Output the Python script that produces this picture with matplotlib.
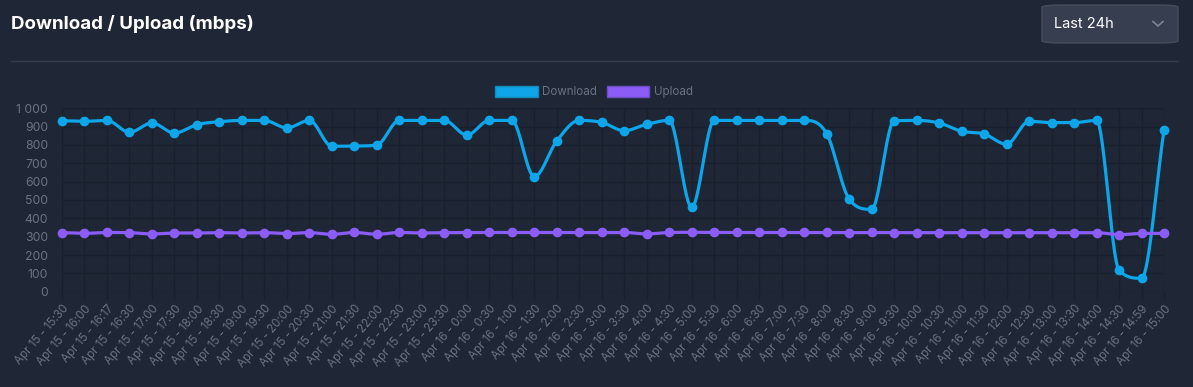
import numpy as np
import matplotlib
matplotlib.use("Agg")
import matplotlib.pyplot as plt
from matplotlib.patches import FancyBboxPatch, Patch
from matplotlib.lines import Line2D
from matplotlib.ticker import FuncFormatter

BG = "#1f2737"
GRID = "#18202c"
TEXT_GREY = "#6b7383"
BLUE = "#0ea5e9"
PURPLE = "#8b5cf6"

day15 = ["15:30", "16:00", "16:17", "16:30", "17:00", "17:30", "18:00", "18:30",
         "19:00", "19:30", "20:00", "20:30", "21:00", "21:30", "22:00", "22:30",
         "23:00", "23:30"]
day16 = ["0:00", "0:30", "1:00", "1:30", "2:00", "2:30", "3:00", "3:30", "4:00",
         "4:30", "5:00", "5:30", "6:00", "6:30", "7:00", "7:30", "8:00", "8:30",
         "9:00", "9:30", "10:00", "10:30", "11:00", "11:30", "12:00", "12:30",
         "13:00", "13:30", "14:00", "14:30", "14:59", "15:00"]
labels = ["Apr 15 - " + t for t in day15] + ["Apr 16 - " + t for t in day16]

download = [932, 929, 934, 869, 920, 865, 911, 927, 934, 934,
            893, 934, 793, 794, 800, 934, 934, 934, 854, 934,
            934, 627, 822, 934, 923, 878, 913, 934, 460, 934,
            934, 934, 934, 934, 862, 505, 449, 931, 934, 920,
            875, 860, 804, 929, 922, 922, 934, 118, 73, 880]
upload = [322, 318, 323, 322, 315, 320, 320, 322, 320, 322,
          317, 322, 313, 323, 313, 323, 320, 322, 322, 323,
          323, 323, 323, 323, 323, 323, 315, 323, 324, 323,
          323, 323, 323, 323, 323, 322, 323, 322, 322, 322,
          322, 322, 322, 322, 322, 322, 322, 311, 318, 318]


def monotone_curve(y, steps=24):
    # monotone cubic spline, same idea as chart.js "monotone" mode
    y = np.asarray(y, dtype=float)
    n = len(y)
    x = np.arange(n, dtype=float)
    d = np.diff(y)
    m = np.zeros(n)
    m[0], m[-1] = d[0], d[-1]
    for k in range(1, n - 1):
        m[k] = 0.0 if d[k - 1] * d[k] <= 0 else (d[k - 1] + d[k]) / 2
    for k in range(n - 1):
        if d[k] == 0:
            m[k] = m[k + 1] = 0.0
            continue
        a, b = m[k] / d[k], m[k + 1] / d[k]
        s = a * a + b * b
        if s > 9:
            t = 3 / np.sqrt(s)
            m[k], m[k + 1] = t * a * d[k], t * b * d[k]
    xs, ys = [], []
    for k in range(n - 1):
        t = np.linspace(0, 1, steps, endpoint=False)
        h00 = 2 * t**3 - 3 * t**2 + 1
        h10 = t**3 - 2 * t**2 + t
        h01 = -2 * t**3 + 3 * t**2
        h11 = t**3 - t**2
        xs.append(x[k] + t)
        ys.append(h00 * y[k] + h10 * m[k] + h01 * y[k + 1] + h11 * m[k + 1])
    xs.append([x[-1]])
    ys.append([y[-1]])
    return np.concatenate(xs), np.concatenate(ys)


plt.rcParams["font.family"] = ["Inter", "DejaVu Sans"]

W, H = 1193, 387
fig = plt.figure(figsize=(W / 100, H / 100), dpi=100, facecolor=BG)

# header
fig.text(11 / W, 1 - 24 / H, "Download / Upload (mbps)", color="white",
         fontsize=13.5, fontweight="bold", va="center", ha="left")
fig.add_artist(Line2D([11 / W, 1178 / W], [1 - 60.5 / H] * 2,
                      color="#353d4c", lw=1))
fig.add_artist(FancyBboxPatch((1042 / W, 1 - 43 / H), 136 / W, 38 / H,
                              boxstyle="round,pad=0,rounding_size=0.018",
                              mutation_aspect=H / W * 1.0,
                              facecolor="#363e4f", edgecolor="#464e5e", lw=1))
fig.text(1054 / W, 1 - 24 / H, "Last 24h", color="white", fontsize=10.5,
         va="center", ha="left")
fig.add_artist(Line2D([1153 / W, 1158 / W, 1163 / W],
                      [1 - 21.5 / H, 1 - 26 / H, 1 - 21.5 / H],
                      color="#7d8594", lw=1.2))

ax = fig.add_axes([62 / W, 1 - 291.7 / H, (1164 - 62) / W, (291.7 - 108.3) / H])
ax.set_facecolor(BG)

x = np.arange(len(labels))
cx, cy = monotone_curve(download)
ax.plot(cx, cy, color=BLUE, lw=2.3, zorder=3, solid_capstyle="round", clip_on=False)
ax.plot(x, download, "o", color=BLUE, ms=6, zorder=4, clip_on=False)
ux, uy = monotone_curve(upload)
ax.plot(ux, uy, color=PURPLE, lw=2.3, zorder=3, solid_capstyle="round", clip_on=False)
ax.plot(x, upload, "o", color=PURPLE, ms=6, zorder=4, clip_on=False)

ax.set_xlim(0, len(labels) - 1)
ax.set_ylim(0, 1000)
ax.set_xticks(x)
ax.set_xticklabels(labels, rotation=49, ha="right", rotation_mode="anchor",
                   fontsize=8.3, color=TEXT_GREY)
ax.set_yticks(np.arange(0, 1001, 100))
ax.yaxis.set_major_formatter(FuncFormatter(lambda v, p: f"{int(v):,}".replace(",", " ")))
ax.tick_params(axis="y", length=0, pad=10, labelsize=8.8, labelcolor=TEXT_GREY)
ax.tick_params(axis="x", length=5, color=GRID, width=1, pad=3)
ax.grid(True, color=GRID, lw=1)
ax.set_axisbelow(True)
for s in ax.spines.values():
    s.set_visible(False)

handles = [Patch(facecolor=BLUE, edgecolor="#1688b8", label="Download"),
           Patch(facecolor=PURPLE, edgecolor="#6d4bc4", label="Upload")]
fig.legend(handles=handles, loc="center", bbox_to_anchor=(594 / W, 1 - 92 / H),
           ncol=2, frameon=False, fontsize=8.3, labelcolor=TEXT_GREY,
           handlelength=3.7, handleheight=1.2, handletextpad=0.4,
           columnspacing=0.8)

fig.savefig("out.png", dpi=100, facecolor=BG)
